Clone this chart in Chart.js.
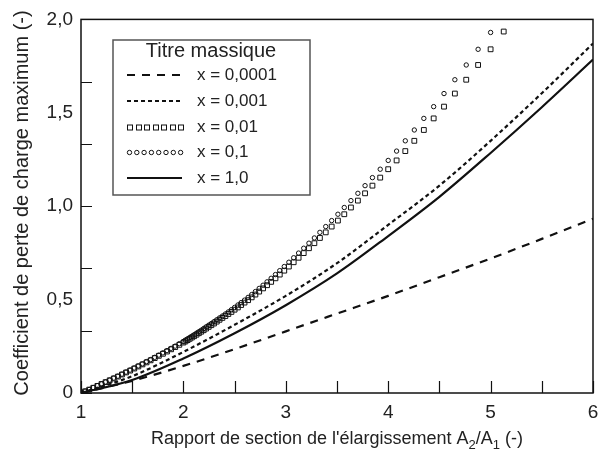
<!DOCTYPE html>
<html>
<head>
<meta charset="utf-8">
<script src="https://cdn.jsdelivr.net/npm/chart.js@4.4.1/dist/chart.umd.min.js"></script>
<style>
  html, body { margin: 0; padding: 0; background: #fff; }
  canvas { display: block; }
</style>
</head>
<body>
<canvas id="chart-perte-charge" width="610" height="453"></canvas>
<script>
// Area ratio A2/A1 for the smooth curves
let ratioLine = [1, 1.5, 2, 2.5, 3, 3.5, 4, 4.5, 5, 5.5, 6];
let coefTitre00001 = [0, 0.065, 0.145, 0.235, 0.33, 0.425, 0.52, 0.62, 0.72, 0.825, 0.933];
let coefTitre0001 = [0, 0.09, 0.22, 0.365, 0.52, 0.695, 0.90, 1.11, 1.35, 1.605, 1.871];
let coefTitre1 = [0, 0.07, 0.185, 0.32, 0.47, 0.64, 0.84, 1.05, 1.285, 1.53, 1.785];

// Area ratio of the computed points (markers)
let ratioSample = [
    1.00, 1.04, 1.08, 1.12, 1.16, 1.20, 1.24, 1.28, 1.32, 1.36, 1.40, 1.44, 1.48,
    1.52, 1.56, 1.60, 1.64, 1.68, 1.72, 1.76, 1.80, 1.84, 1.88, 1.92, 1.96,
    2.000, 2.020, 2.041, 2.062, 2.083, 2.105, 2.128, 2.151, 2.174, 2.198,
    2.222, 2.247, 2.273, 2.299, 2.326, 2.353, 2.381, 2.410, 2.439, 2.469,
    2.500, 2.532, 2.564, 2.597, 2.632, 2.667, 2.703, 2.740, 2.778, 2.817,
    2.857, 2.899, 2.941, 2.985, 3.030, 3.077, 3.125, 3.175, 3.226, 3.279,
    3.333, 3.390, 3.448, 3.509, 3.571, 3.636, 3.704, 3.774, 3.846, 3.922,
    4.000, 4.082, 4.167, 4.255, 4.348, 4.444, 4.545, 4.651, 4.762, 4.878,
    5.000, 5.128
];
let coefTitre01 = [
    0.000, 0.010, 0.019, 0.029, 0.039, 0.049, 0.059, 0.069, 0.080, 0.090, 0.101, 0.112, 0.123,
    0.134, 0.145, 0.156, 0.168, 0.179, 0.191, 0.203, 0.215, 0.227, 0.239, 0.251, 0.264,
    0.276, 0.283, 0.290, 0.297, 0.304, 0.312, 0.320, 0.328, 0.336, 0.345,
    0.354, 0.363, 0.372, 0.382, 0.392, 0.402, 0.412, 0.423, 0.434, 0.446,
    0.458, 0.471, 0.484, 0.497, 0.512, 0.527, 0.543, 0.560, 0.577, 0.595,
    0.614, 0.634, 0.655, 0.677, 0.700, 0.724, 0.749, 0.775, 0.802, 0.830,
    0.860, 0.891, 0.923, 0.957, 0.993, 1.030, 1.069, 1.110, 1.153, 1.198,
    1.245, 1.295, 1.350, 1.408, 1.470, 1.533, 1.603, 1.677, 1.756, 1.840,
    1.930
];
let coefTitre001 = [
    0.000, 0.009, 0.018, 0.028, 0.038, 0.048, 0.058, 0.068, 0.078, 0.088, 0.099, 0.110, 0.120,
    0.131, 0.142, 0.153, 0.164, 0.175, 0.187, 0.199, 0.210, 0.222, 0.234, 0.246, 0.258,
    0.270, 0.276, 0.283, 0.290, 0.297, 0.304, 0.312, 0.320, 0.328, 0.336,
    0.345, 0.354, 0.363, 0.372, 0.382, 0.392, 0.402, 0.412, 0.423, 0.434,
    0.446, 0.458, 0.471, 0.484, 0.497, 0.512, 0.527, 0.543, 0.560, 0.577,
    0.595, 0.614, 0.634, 0.655, 0.677, 0.700, 0.724, 0.749, 0.775, 0.802,
    0.830, 0.860, 0.891, 0.923, 0.957, 0.993, 1.030, 1.069, 1.110, 1.153,
    1.198, 1.245, 1.295, 1.350, 1.408, 1.470, 1.533, 1.603, 1.677, 1.756,
    1.840, 1.935
];

let legendTitle = 'Titre massique';
let legendLabels = ['x = 0,0001', 'x = 0,001', 'x = 0,01', 'x = 0,1', 'x = 1,0'];
let legendStyles = ['longdash', 'shortdash', 'square', 'circle', 'solid'];

let xTickValues = [1, 1.5, 2, 2.5, 3, 3.5, 4, 4.5, 5, 5.5, 6];
let yTickValues = [0, 1 / 3, 2 / 3, 1, 4 / 3, 5 / 3, 2];

const fontFamily = "'Liberation Sans', Arial, Helvetica, sans-serif";
const ink = '#111';

function toPoints(xs, ys) {
    return ys.map((y, i) => ({ x: xs[i], y: y }));
}

function commaLabel(value) {
    if (value === 0) return '0';
    return value.toFixed(1).replace('.', ',');
}

// Frame, inward tick marks, legend box and axis titles
const decorPlugin = {
    id: 'decor',
    afterDatasetsDraw(chart) {
        const ctx = chart.ctx;
        const area = chart.chartArea;
        const xs = chart.scales.x;
        const ys = chart.scales.y;
        ctx.save();

        ctx.strokeStyle = ink;
        ctx.lineWidth = 1.5;
        ctx.setLineDash([]);
        ctx.strokeRect(area.left, area.top, area.right - area.left, area.bottom - area.top);

        ctx.lineWidth = 1.2;
        ctx.beginPath();
        yTickValues.forEach(v => {
            const py = Math.round(ys.getPixelForValue(v)) + 0.5;
            ctx.moveTo(area.left, py);
            ctx.lineTo(area.left + 11, py);
        });
        xTickValues.forEach(v => {
            const px = Math.round(xs.getPixelForValue(v)) + 0.5;
            ctx.moveTo(px, area.bottom);
            ctx.lineTo(px, area.bottom - 12);
        });
        ctx.stroke();

        // legend
        const box = { left: 113, top: 40, width: 197, height: 155 };
        ctx.fillStyle = '#fff';
        ctx.fillRect(box.left, box.top, box.width, box.height);
        ctx.strokeStyle = '#555';
        ctx.lineWidth = 1.5;
        ctx.strokeRect(box.left, box.top, box.width, box.height);

        ctx.fillStyle = '#222';
        ctx.font = '20px ' + fontFamily;
        ctx.textBaseline = 'middle';
        ctx.textAlign = 'center';
        ctx.fillText(legendTitle, 211, 51);

        ctx.font = '17px ' + fontFamily;
        ctx.textAlign = 'left';
        const rowY = [75, 101, 127, 152, 178];
        const x0 = 127, x1 = 182;
        legendLabels.forEach((label, i) => {
            const y = rowY[i];
            ctx.fillStyle = '#222';
            ctx.fillText(label, 197, y);
            ctx.strokeStyle = ink;
            ctx.setLineDash([]);
            const style = legendStyles[i];
            if (style === 'square') {
                ctx.lineWidth = 1;
                for (let k = 0; k < 7; k++) {
                    const cx = x0 + 2.5 + k * 8.5;
                    ctx.strokeRect(Math.round(cx - 2.5) + 0.5, y - 2, 5, 5);
                }
            } else if (style === 'circle') {
                ctx.lineWidth = 1;
                for (let k = 0; k < 8; k++) {
                    const cx = x0 + 2.5 + k * 7.3;
                    ctx.beginPath();
                    ctx.arc(cx, y + 0.5, 2.2, 0, Math.PI * 2);
                    ctx.stroke();
                }
            } else {
                ctx.lineWidth = 2.2;
                if (style === 'longdash') ctx.setLineDash([8, 7]);
                if (style === 'shortdash') ctx.setLineDash([4, 3]);
                ctx.beginPath();
                ctx.moveTo(x0, y);
                ctx.lineTo(x1, y);
                ctx.stroke();
            }
        });
        ctx.restore();
    },
    afterDraw(chart) {
        const ctx = chart.ctx;
        const area = chart.chartArea;
        ctx.save();
        ctx.fillStyle = '#222';
        ctx.textBaseline = 'alphabetic';

        // x title with subscripts
        const big = '18px ' + fontFamily;
        const small = '13px ' + fontFamily;
        const parts = [
            ["Rapport de section de l'élargissement A", big, 0],
            ['2', small, 5],
            ['/A', big, 0],
            ['1', small, 5],
            [' (-)', big, 0]
        ];
        let total = 0;
        parts.forEach(p => { ctx.font = p[1]; total += ctx.measureText(p[0]).width; });
        let x = (area.left + area.right) / 2 - total / 2;
        const baseY = 444;
        parts.forEach(p => {
            ctx.font = p[1];
            ctx.textAlign = 'left';
            ctx.fillText(p[0], x, baseY + p[2]);
            x += ctx.measureText(p[0]).width;
        });

        // y title
        ctx.font = '20px ' + fontFamily;
        ctx.textAlign = 'center';
        ctx.textBaseline = 'middle';
        ctx.translate(22, 203);
        ctx.rotate(-Math.PI / 2);
        ctx.fillText('Coefficient de perte de charge maximum (-)', 0, 0);
        ctx.restore();
    }
};

let lineBase = {
    showLine: true,
    pointRadius: 0,
    borderColor: ink,
    borderWidth: 2.2,
    fill: false,
    cubicInterpolationMode: 'monotone'
};

let markerBase = {
    showLine: false,
    borderColor: ink,
    backgroundColor: 'rgba(0,0,0,0)',
    borderWidth: 1
};

let canva = document.getElementById('chart-perte-charge');
window.perteChargeChart = new Chart(canva.getContext('2d'), {
    type: 'scatter',
    data: {
        datasets: [
            { ...lineBase, label: legendLabels[0], data: toPoints(ratioLine, coefTitre00001), borderDash: [8, 7] },
            { ...lineBase, label: legendLabels[1], data: toPoints(ratioLine, coefTitre0001), borderDash: [4, 3] },
            { ...markerBase, label: legendLabels[2], data: toPoints(ratioSample, coefTitre001), pointStyle: 'rect', pointRadius: 3.4 },
            { ...markerBase, label: legendLabels[3], data: toPoints(ratioSample, coefTitre01), pointStyle: 'circle', pointRadius: 2.2 },
            { ...lineBase, label: legendLabels[4], data: toPoints(ratioLine, coefTitre1) }
        ]
    },
    options: {
        responsive: false,
        animation: false,
        devicePixelRatio: 1,
        layout: { padding: { top: 15, right: 17, left: 0, bottom: 0 } },
        scales: {
            x: {
                type: 'linear',
                min: 1,
                max: 6,
                grid: { display: false, drawTicks: false },
                border: { display: false },
                ticks: {
                    stepSize: 1,
                    padding: 8,
                    color: '#222',
                    font: { family: fontFamily, size: 19 },
                    maxRotation: 0
                },
                afterFit: scale => { scale.height = 60; }
            },
            y: {
                type: 'linear',
                min: 0,
                max: 2,
                grid: { display: false, drawTicks: false },
                border: { display: false },
                ticks: {
                    stepSize: 0.5,
                    padding: 8,
                    color: '#222',
                    font: { family: fontFamily, size: 19 },
                    callback: value => commaLabel(value)
                },
                afterFit: scale => { scale.width = 81; }
            }
        },
        plugins: {
            legend: { display: false },
            tooltip: { enabled: false }
        }
    },
    plugins: [decorPlugin]
});
</script>
</body>
</html>
